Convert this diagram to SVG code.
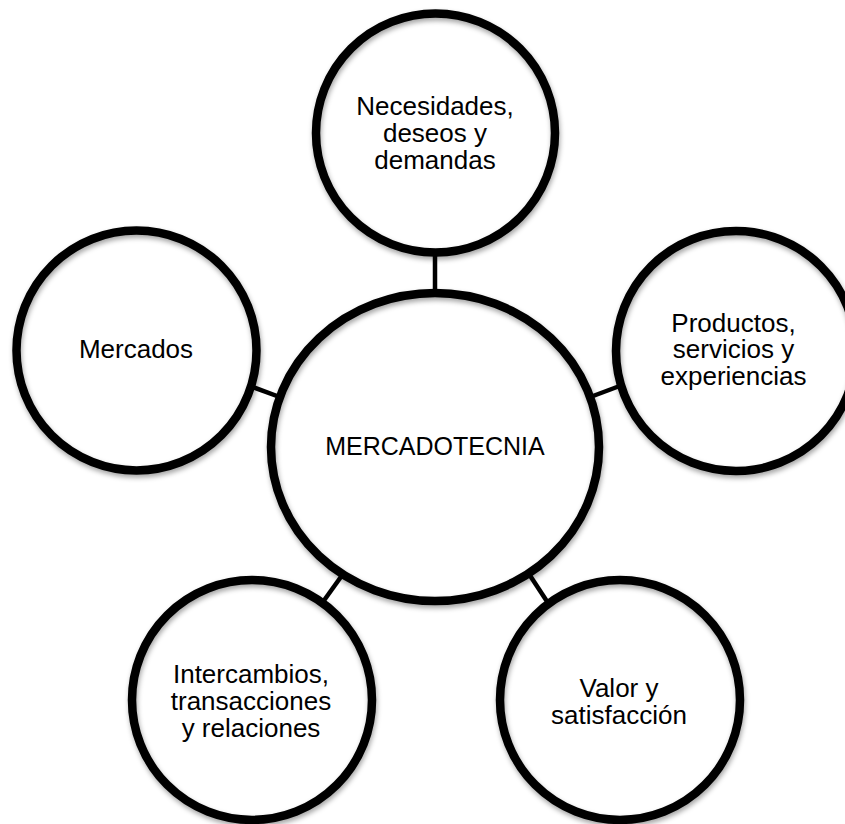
<svg xmlns="http://www.w3.org/2000/svg" width="845" height="824" viewBox="0 0 845 824">
  <style>
    .fill { fill: #ffffff; stroke: none; }
    .ring { fill: none; stroke: #000000; stroke-width: 8.5; filter: url(#soft); }
    .link { stroke: #000000; stroke-width: 4.5; fill: none; }
    text { font-family: "Liberation Sans", Arial, sans-serif; font-size: 26px; fill: #000000; text-anchor: middle; }
    .hub { font-size: 25px; }
  </style>
  <defs>
    <filter id="soft" x="-10%" y="-10%" width="120%" height="125%">
      <feDropShadow dx="1" dy="3" stdDeviation="2.5" flood-color="#000000" flood-opacity="0.35"/>
    </filter>
  </defs>
  <rect width="845" height="824" fill="#ffffff"/>

  <!-- spokes from the hub to each concept -->
  <g id="connectors">
    <line class="link" x1="435" y1="254" x2="435" y2="294"/>
    <line class="link" x1="250" y1="386" x2="281" y2="397.5"/>
    <line class="link" x1="589" y1="397.5" x2="621" y2="385.5"/>
    <line class="link" x1="320" y1="606" x2="343" y2="574"/>
    <line class="link" x1="529" y1="574" x2="550" y2="606"/>
  </g>

  <g id="hub">
    <ellipse class="fill" cx="435" cy="447" rx="164" ry="154"/>
    <ellipse class="ring" cx="435" cy="447" rx="164" ry="154"/>
    <text class="hub" x="435" y="455">MERCADOTECNIA</text>
  </g>

  <g id="necesidades">
    <circle class="fill" cx="435.5" cy="133" r="119.5"/>
    <circle class="ring" cx="435.5" cy="133" r="119.5"/>
    <text x="435" y="114.5">Necesidades,</text>
    <text x="435" y="142">deseos y</text>
    <text x="435" y="169">demandas</text>
  </g>

  <g id="mercados">
    <circle class="fill" cx="136.5" cy="350.5" r="120"/>
    <circle class="ring" cx="136.5" cy="350.5" r="120"/>
    <text x="136" y="358">Mercados</text>
  </g>

  <g id="productos">
    <circle class="fill" cx="736" cy="351" r="120"/>
    <circle class="ring" cx="736" cy="351" r="120"/>
    <text x="733.5" y="331.7">Productos,</text>
    <text x="733.5" y="358.3">servicios y</text>
    <text x="733.5" y="385">experiencias</text>
  </g>

  <g id="intercambios">
    <circle class="fill" cx="252" cy="700" r="120"/>
    <circle class="ring" cx="252" cy="700" r="120"/>
    <text x="251" y="683">Intercambios,</text>
    <text x="251" y="710">transacciones</text>
    <text x="251" y="736.5">y relaciones</text>
  </g>

  <g id="valor">
    <circle class="fill" cx="620" cy="700" r="120"/>
    <circle class="ring" cx="620" cy="700" r="120"/>
    <text x="619" y="696.7">Valor y</text>
    <text x="619" y="724">satisfacción</text>
  </g>
</svg>
